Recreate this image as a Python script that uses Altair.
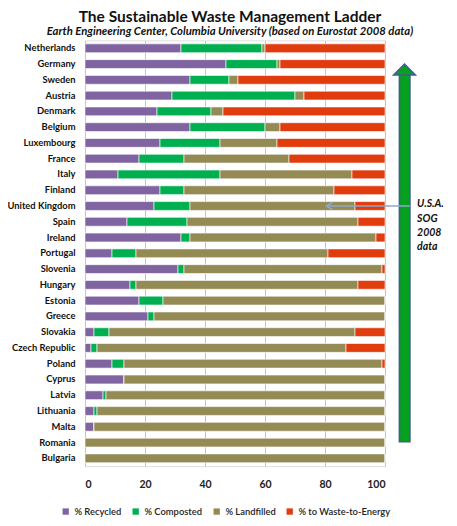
import altair as alt
import pandas as pd

countries = ["Netherlands", "Germany", "Sweden", "Austria", "Denmark", "Belgium",
             "Luxembourg", "France", "Italy", "Finland", "United Kingdom", "Spain",
             "Ireland", "Portugal", "Slovenia", "Hungary", "Estonia", "Greece",
             "Slovakia", "Czech Republic", "Poland", "Cyprus", "Latvia", "Lithuania",
             "Malta", "Romania", "Bulgaria"]
recycled   = [32, 47, 35, 29, 24, 35, 25, 18, 11, 25, 23, 14, 32, 9, 31, 15, 18, 21, 3, 2, 9, 13, 6, 3, 3, 0, 0]
composted  = [27, 17, 13, 41, 18, 25, 20, 15, 34, 8, 12, 20, 3, 8, 2, 2, 8, 2, 5, 2, 4, 0, 1, 1, 0, 0, 0]
landfilled = [1, 1, 3, 3, 4, 5, 19, 35, 44, 50, 55, 57, 62, 64, 66, 74, 74, 77, 82, 83, 86, 87, 93, 96, 97, 100, 100]
wte        = [40, 35, 49, 27, 54, 35, 36, 32, 11, 17, 10, 9, 3, 19, 1, 9, 0, 0, 10, 13, 1, 0, 0, 0, 0, 0, 0]

series = ["% Recycled", "% Composted", "% Landfilled", "% to Waste-to-Energy"]
colors = ["#8064A2", "#00B050", "#948A54", "#E03C0E"]

rows = []
for i, c in enumerate(countries):
    for k, (s, vals) in enumerate(zip(series, [recycled, composted, landfilled, wte])):
        rows.append({"country": c, "series": s, "value": vals[i], "order": k})
df = pd.DataFrame(rows)

FONT = "Lato"
XS = alt.Scale(domain=[0, 100], nice=False)
YR = alt.Scale(domain=[0, 27], reverse=True, nice=False, zero=False)

bars = alt.Chart(df).mark_bar(stroke="white", strokeWidth=0.6).encode(
    x=alt.X("value:Q", stack="zero", scale=XS,
            axis=alt.Axis(values=[0, 20, 40, 60, 80, 100], grid=True, gridColor="#C4C4C4",
                          domain=False, ticks=False, labelPadding=13, labelFontSize=10.5,
                          labelFontWeight="bold", labelColor="#222", labelFont=FONT, title=None)),
    y=alt.Y("country:N", sort=countries,
            scale=alt.Scale(paddingInner=0.44, paddingOuter=0.22),
            axis=alt.Axis(domain=False, ticks=False, labelPadding=10, labelFontSize=9.4,
                          labelFontWeight="bold", labelColor="#111", labelFont=FONT, title=None)),
    color=alt.Color("series:N", sort=series, title=None,
                    scale=alt.Scale(domain=series, range=colors),
                    legend=alt.Legend(orient="none", legendX=-24, legendY=466, direction="horizontal",
                                      symbolType="square", symbolSize=40, symbolStrokeWidth=0,
                                      labelFontSize=9.4, labelFont=FONT, labelColor="#222",
                                      labelFontWeight=600, columnPadding=9, labelOffset=4)),
    order=alt.Order("order:Q"),
)

# Ladder arrow (x in data units, y in row units)
shaft_df = pd.DataFrame({"x": [104.8], "x2": [108.3], "y": [2.19], "y2": [25.45]})
head_df = pd.DataFrame({"x": [106.5], "y": [2.19]})
ann_df = pd.DataFrame({"x": [80.5], "x2": [108.3], "y": [10.5]})
txt_df = pd.DataFrame({"x": [110.7], "y": [10.5], "t": ["U.S.A.\nSOG\n2008\ndata"]})

shaft = alt.Chart(shaft_df).mark_rect(fill="#05A01E", stroke="#3E5F92", strokeWidth=1.6).encode(
    x=alt.X("x:Q", scale=XS), x2="x2:Q",
    y=alt.Y("y:Q", scale=YR, axis=None), y2="y2:Q")
head = alt.Chart(head_df).mark_point(shape="M-1,0L0,-1L1,0Z", filled=True, fill="#05A01E",
                                     stroke="#3E5F92", strokeWidth=1.4, size=484, opacity=1).encode(
    x=alt.X("x:Q", scale=XS), y=alt.Y("y:Q", scale=YR, axis=None))
ann_line = alt.Chart(ann_df).mark_rule(color="#8EA9CC", strokeWidth=1.6).encode(
    x=alt.X("x:Q", scale=XS), x2="x2:Q", y=alt.Y("y:Q", scale=YR, axis=None))
ann_head = alt.Chart(ann_df).mark_point(shape="M1,-0.6L0,0L1,0.6", filled=False, stroke="#8EA9CC",
                                        strokeWidth=1.6, size=144, opacity=1).encode(
    x=alt.X("x:Q", scale=XS), y=alt.Y("y:Q", scale=YR, axis=None))
ann_txt = alt.Chart(txt_df).mark_text(align="left", baseline="alphabetic", dy=1.5, lineBreak="\n",
                                      lineHeight=14.2, font=FONT, fontSize=10.5, fontWeight="bold",
                                      fontStyle="italic", color="#111").encode(
    x=alt.X("x:Q", scale=XS), y=alt.Y("y:Q", scale=YR, axis=None), text="t:N")

deco = alt.layer(shaft, head, ann_line, ann_head, ann_txt)

chart = alt.layer(bars, deco).resolve_scale(y="independent").properties(
    width=300, height=425.8,
    autosize=alt.AutoSizeParams(type="none"),
    padding={"left": 77, "top": 32.4, "right": 64, "bottom": 51.8},
    title=alt.TitleParams(
        text="The Sustainable Waste Management Ladder",
        subtitle="Earth Engineering Center, Columbia University (based on Eurostat 2008 data)",
        font=FONT, fontSize=15.5, fontWeight="bold", color="#111",
        subtitleFont=FONT, subtitleFontSize=11.3, subtitleFontWeight="bold",
        subtitleFontStyle="italic", subtitleColor="#111",
        anchor="middle", frame="group", offset=3, subtitlePadding=1, dx=-5),
).configure_view(stroke=None).configure(background="white")

chart.save("out.html", embed_options={"renderer": "svg", "actions": False})
